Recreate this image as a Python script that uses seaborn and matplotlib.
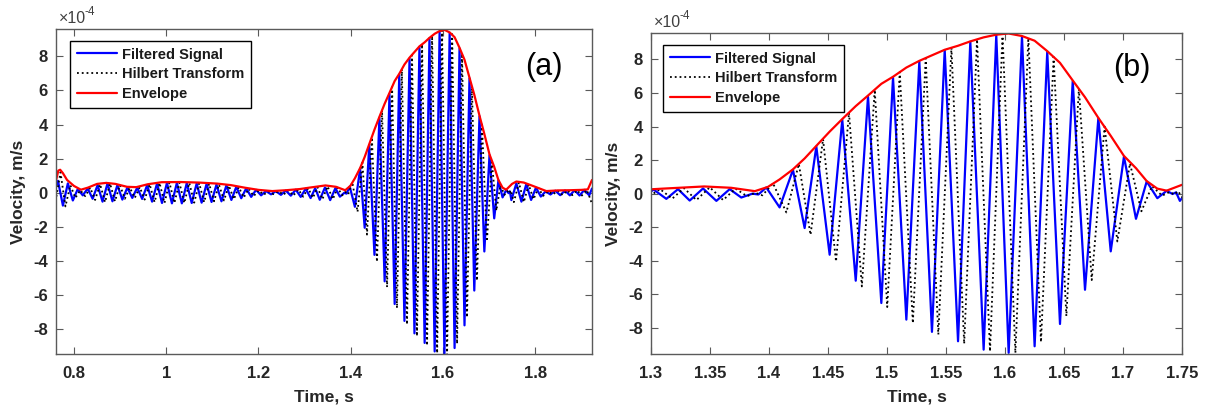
import numpy as np
import pandas as pd
import matplotlib
matplotlib.use("Agg")
import matplotlib.pyplot as plt
import seaborn as sns
from matplotlib.ticker import FixedLocator, FixedFormatter

# ---------------- data (velocity in units of 1e-4 m/s) ----------------
# Filtered signal: extrema
sig_t = [0.7600, 0.7653, 0.7760, 0.7867, 0.7975, 0.8082, 0.8190, 0.8297, 0.8404, 0.8512,
         0.8619, 0.8727, 0.8834, 0.8941, 0.9049, 0.9156, 0.9264, 0.9371, 0.9478, 0.9586,
         0.9693, 0.9801, 0.9908, 1.0015, 1.0123, 1.0230, 1.0338, 1.0445, 1.0552, 1.0660,
         1.0767, 1.0875, 1.0982, 1.1089, 1.1197, 1.1304, 1.1412, 1.1519, 1.1626, 1.1734,
         1.1841, 1.1949, 1.2056, 1.2163, 1.2271, 1.2378, 1.2486, 1.2593, 1.2700, 1.2808,
         1.2915, 1.3023, 1.3130, 1.3229, 1.3328, 1.3441, 1.3554, 1.3667, 1.3765, 1.3860,
         1.3910, 1.3977, 1.4090, 1.4203, 1.4302, 1.4401, 1.4514, 1.4621, 1.4735, 1.4839,
         1.4952, 1.5051, 1.5164, 1.5274, 1.5381, 1.5489, 1.5602, 1.5706, 1.5819, 1.5926,
         1.6031, 1.6144, 1.6251, 1.6358, 1.6466, 1.6574, 1.6678, 1.6791, 1.6896, 1.7008,
         1.7110, 1.7201, 1.7291, 1.7370, 1.7420, 1.7450, 1.7482, 1.7590, 1.7700, 1.7805,
         1.7910, 1.8015, 1.8120, 1.8225, 1.8330, 1.8435, 1.8540, 1.8645, 1.8750, 1.8855,
         1.8960, 1.9065, 1.9170, 1.9230]
sig_v = [0.30, 0.70, -0.75, 0.55, -0.45, 0.22, -0.15, 0.25, -0.35, 0.45,
         -0.52, 0.55, -0.50, 0.45, -0.40, 0.30, -0.30, 0.30, -0.36, 0.45,
         -0.52, 0.55, -0.60, 0.58, -0.62, 0.58, -0.62, 0.57, -0.60, 0.55,
         -0.58, 0.53, -0.54, 0.48, -0.50, 0.43, -0.42, 0.35, -0.32, 0.26,
         -0.24, 0.17, -0.15, 0.10, -0.09, 0.09, -0.12, 0.13, -0.17, 0.18,
         -0.24, 0.24, -0.31, 0.27, -0.41, 0.31, -0.43, 0.27, -0.23, 0.00,
         -0.05, 0.37, -0.82, 1.42, -2.05, 2.81, -3.64, 4.40, -5.19, 5.79,
         -6.52, 6.92, -7.51, 7.87, -8.24, 8.56, -8.80, 9.06, -9.30, 9.45,
         -9.49, 9.36, -9.10, 8.46, -7.77, 6.71, -5.73, 4.49, -3.44, 2.21,
         -1.50, 0.73, -0.27, 0.17, -0.02, 0.08, -0.43, 0.55, -0.52, 0.50,
         -0.42, 0.30, -0.22, 0.08, -0.10, 0.12, -0.14, 0.13, -0.15, 0.15,
         -0.16, 0.17, -0.15, 0.25]

# Hilbert transform: extrema
hil_t = [0.7600, 0.7707, 0.7814, 0.7921, 0.8029, 0.8136, 0.8244, 0.8351, 0.8458, 0.8566,
         0.8673, 0.8781, 0.8888, 0.8995, 0.9103, 0.9210, 0.9318, 0.9425, 0.9532, 0.9640,
         0.9747, 0.9855, 0.9962, 1.0069, 1.0177, 1.0284, 1.0392, 1.0499, 1.0606, 1.0714,
         1.0821, 1.0929, 1.1036, 1.1143, 1.1251, 1.1358, 1.1466, 1.1573, 1.1680, 1.1788,
         1.1895, 1.2003, 1.2110, 1.2217, 1.2325, 1.2432, 1.2540, 1.2647, 1.2754, 1.2862,
         1.2969, 1.3077, 1.3180, 1.3279, 1.3385, 1.3498, 1.3611, 1.3716, 1.3813, 1.3885,
         1.3944, 1.4034, 1.4147, 1.4253, 1.4352, 1.4458, 1.4568, 1.4678, 1.4787, 1.4896,
         1.5002, 1.5108, 1.5219, 1.5328, 1.5435, 1.5546, 1.5654, 1.5763, 1.5873, 1.5979,
         1.6088, 1.6198, 1.6305, 1.6412, 1.6520, 1.6626, 1.6735, 1.6844, 1.6952, 1.7059,
         1.7156, 1.7246, 1.7331, 1.7395, 1.7435, 1.7466, 1.7536, 1.7645, 1.7752, 1.7857,
         1.7962, 1.8067, 1.8172, 1.8277, 1.8382, 1.8487, 1.8592, 1.8697, 1.8802, 1.8907,
         1.9012, 1.9117, 1.9200, 1.9230]
hil_v = [-0.50, 1.20, -0.80, 0.45, -0.30, 0.15, -0.20, 0.30, -0.42, 0.50,
         -0.55, 0.55, -0.50, 0.45, -0.35, 0.30, -0.30, 0.33, -0.40, 0.50,
         -0.55, 0.58, -0.60, 0.60, -0.60, 0.60, -0.60, 0.58, -0.58, 0.56,
         -0.55, 0.53, -0.50, 0.48, -0.45, 0.42, -0.38, 0.33, -0.28, 0.24,
         -0.20, 0.15, -0.12, 0.09, -0.08, 0.10, -0.12, 0.15, -0.17, 0.20,
         -0.23, 0.27, -0.30, 0.33, -0.38, 0.38, -0.38, 0.30, -0.15, 0.05,
         -0.10, 0.62, -1.12, 1.77, -2.45, 3.25, -4.05, 4.83, -5.53, 6.20,
         -6.76, 7.25, -7.72, 8.07, -8.40, 8.70, -8.95, 9.20, -9.40, 9.52,
         -9.50, 9.30, -8.85, 8.15, -7.30, 6.25, -5.15, 4.00, -2.85, 1.80,
         -1.05, 0.45, -0.12, 0.10, -0.05, 0.15, -0.55, 0.60, -0.55, 0.48,
         -0.38, 0.28, -0.18, 0.10, -0.10, 0.12, -0.13, 0.14, -0.14, 0.15,
         -0.16, 0.16, -0.40, -0.70]

# Envelope
env_t = [0.7600, 0.7660, 0.7700, 0.7760, 0.7850, 0.8000, 0.8150, 0.8300, 0.8500, 0.8700,
         0.8900, 0.9150, 0.9350, 0.9600, 0.9900, 1.0300, 1.0700, 1.1100, 1.1400, 1.1700,
         1.2000, 1.2300, 1.2600, 1.2900, 1.3100, 1.3450, 1.3680, 1.3880, 1.3990, 1.4090,
         1.4203, 1.4302, 1.4401, 1.4514, 1.4621, 1.4735, 1.4839, 1.4952, 1.5051, 1.5164,
         1.5274, 1.5381, 1.5489, 1.5602, 1.5706, 1.5819, 1.5926, 1.6031, 1.6144, 1.6251,
         1.6358, 1.6466, 1.6574, 1.6678, 1.6791, 1.6896, 1.7008, 1.7110, 1.7201, 1.7291,
         1.7370, 1.7497, 1.7590, 1.7750, 1.7950, 1.8240, 1.8500, 1.8750, 1.9000, 1.9140,
         1.9230]
env_v = [0.60, 1.30, 1.35, 1.15, 0.75, 0.40, 0.18, 0.30, 0.52, 0.58,
         0.52, 0.35, 0.33, 0.50, 0.62, 0.63, 0.60, 0.54, 0.45, 0.30,
         0.17, 0.10, 0.15, 0.22, 0.30, 0.43, 0.35, 0.15, 0.40, 0.85,
         1.45, 2.10, 2.85, 3.70, 4.45, 5.22, 5.85, 6.55, 6.97, 7.52,
         7.92, 8.25, 8.58, 8.82, 9.08, 9.32, 9.48, 9.55, 9.40, 9.12,
         8.50, 7.80, 6.75, 5.75, 4.52, 3.45, 2.25, 1.52, 0.75, 0.30,
         0.18, 0.52, 0.66, 0.60, 0.40, 0.10, 0.14, 0.15, 0.17, 0.20,
         0.75]

series_labels = ["Filtered Signal", "Hilbert Transform", "Envelope"]
panel_tags = ["(a)", "(b)"]
xticks_a = [0.8, 1.0, 1.2, 1.4, 1.6, 1.8]
xticklabels_a = ["0.8", "1", "1.2", "1.4", "1.6", "1.8"]
xticks_b = [1.3, 1.35, 1.4, 1.45, 1.5, 1.55, 1.6, 1.65, 1.7, 1.75]
xticklabels_b = ["1.3", "1.35", "1.4", "1.45", "1.5", "1.55", "1.6", "1.65", "1.7", "1.75"]
yticks = [-8, -6, -4, -2, 0, 2, 4, 6, 8]
yticklabels = ["-8", "-6", "-4", "-2", "0", "2", "4", "6", "8"]
mult_base = "×10"
mult_exp = "-4"

# ---------------- styling ----------------
sns.set_theme(style="white")
plt.rcParams["font.family"] = ["Liberation Sans", "DejaVu Sans"]
plt.rcParams["axes.unicode_minus"] = False

df_sig = pd.DataFrame({"t": sig_t, "v": sig_v})
df_hil = pd.DataFrame({"t": hil_t, "v": hil_v})
df_env = pd.DataFrame({"t": env_t, "v": env_v})

W, H = 1210, 407
fig = plt.figure(figsize=(W / 100, H / 100), dpi=100)
ax_a = fig.add_axes([56 / W, (H - 354) / H, 536 / W, 325 / H])
ax_b = fig.add_axes([651 / W, (H - 354) / H, 531 / W, 321 / H])

spine_col = "#5a5a5a"
text_col = "#262626"

configs = [
    (ax_a, (0.761, 1.923), (-9.45, 9.6), xticks_a, xticklabels_a, panel_tags[0],
     (0.910, 0.883), (14 / 536, 1 - 12 / 325)),
    (ax_b, (1.3, 1.75), (-9.56, 9.58), xticks_b, xticklabels_b, panel_tags[1],
     (0.906, 0.891), (12 / 531, 1 - 12 / 321)),
]

for ax, xl, yl, xt, xtl, tag, tagpos, legpos in configs:
    sns.lineplot(data=df_sig, x="t", y="v", ax=ax, color="#0000ff", lw=1.6,
                 sort=False, estimator=None, label=series_labels[0])
    sns.lineplot(data=df_hil, x="t", y="v", ax=ax, color="black", lw=1.3,
                 linestyle=":", sort=False, estimator=None, label=series_labels[1])
    sns.lineplot(data=df_env, x="t", y="v", ax=ax, color="#ff0000", lw=1.6,
                 sort=False, estimator=None, label=series_labels[2])

    ax.set_xlim(*xl)
    ax.set_ylim(*yl)
    ax.xaxis.set_major_locator(FixedLocator(xt))
    ax.xaxis.set_major_formatter(FixedFormatter(xtl))
    ax.yaxis.set_major_locator(FixedLocator(yticks))
    ax.yaxis.set_major_formatter(FixedFormatter(yticklabels))

    ax.tick_params(axis="both", which="major", direction="in", length=5, width=0.8,
                   color=spine_col, labelsize=12, labelcolor=text_col,
                   bottom=True, top=True, left=True, right=True,
                   labeltop=False, labelright=False, pad=6)
    ax.tick_params(axis="x", pad=9)
    for lbl in ax.get_xticklabels() + ax.get_yticklabels():
        lbl.set_fontweight("bold")
    for s in ax.spines.values():
        s.set_color(spine_col)
        s.set_linewidth(1.0)

    # multiplier "x10^-4" above the top-left corner
    ax.annotate(mult_base, xy=(0, 1), xycoords="axes fraction", xytext=(2, 2),
                textcoords="offset points", fontsize=11.5, ha="left", va="bottom",
                color="#404040")
    ax.annotate(mult_exp, xy=(0, 1), xycoords="axes fraction", xytext=(20.5, 8),
                textcoords="offset points", fontsize=8.5, ha="left", va="bottom",
                color="#404040")

    ax.set_xlabel("Time, s", fontsize=12.5, fontweight="bold", color=text_col, labelpad=6)
    ax.set_ylabel("Velocity, m/s", fontsize=12.5, fontweight="bold", color=text_col, labelpad=5)

    leg = ax.legend(loc="upper left", bbox_to_anchor=legpos, borderaxespad=0,
                    frameon=True, fancybox=False, framealpha=1, edgecolor="black",
                    prop={"size": 10.5, "weight": "bold"},
                    handlelength=2.8, handletextpad=0.3, borderpad=0.45,
                    labelspacing=0.4)
    leg.get_frame().set_linewidth(1.0)
    for t in leg.get_texts():
        t.set_color("#1a1a1a")

    ax.text(tagpos[0], tagpos[1], tag, transform=ax.transAxes, fontsize=22,
            ha="center", va="center", color="black")

fig.savefig("out.png", dpi=100)
